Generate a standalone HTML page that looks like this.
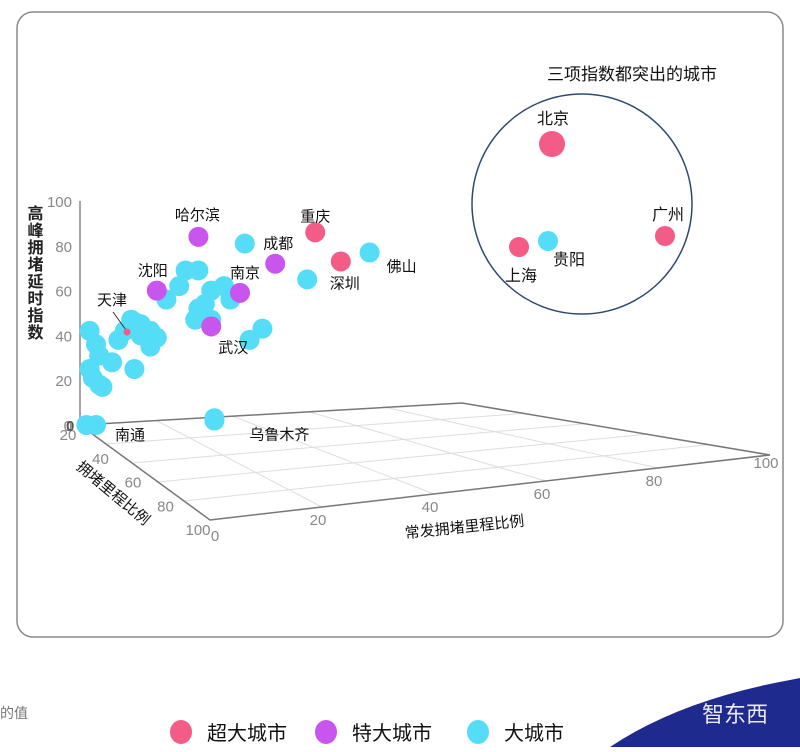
<!DOCTYPE html>
<html><head><meta charset="utf-8"><style>
body{margin:0;width:800px;height:747px;background:#fff;overflow:hidden;font-family:"Liberation Sans","Noto Sans CJK SC",sans-serif}
svg text{font-family:"Liberation Sans","Noto Sans CJK SC",sans-serif}
</style></head><body>
<svg id="chart" width="800" height="747" xmlns="http://www.w3.org/2000/svg">
<rect x="17" y="12" width="766" height="625" rx="16" fill="#fff" stroke="#8a8a8a" stroke-width="1.5"/>
<g id="floor"></g>
<g id="axes"></g>
<g id="pts"></g>
<g>
<text x="632" y="80" font-size="17" text-anchor="middle" fill="#111">三项指数都突出的城市</text>
<circle cx="582" cy="204" r="110" fill="none" stroke="#2d4a6e" stroke-width="1.5"/>
</g>
<text x="0" y="718" font-size="14" fill="#777">的值</text>
<g>
<g><ellipse cx="181" cy="732" rx="11" ry="12" fill="#f25c87"/><text x="207" y="740" font-size="20" fill="#111">超大城市</text></g>
<g><ellipse cx="326" cy="732" rx="11" ry="12" fill="#c855ee"/><text x="352" y="740" font-size="20" fill="#111">特大城市</text></g>
<g><ellipse cx="478" cy="732" rx="11" ry="12" fill="#55dcf7"/><text x="504" y="740" font-size="20" fill="#111">大城市</text></g>
</g>
<g>
<path d="M610 747 Q680 700 790 680 L800 678 L800 747 Z" fill="#1f2a8f"/>
<text x="735" y="722" font-size="22" fill="#fff" text-anchor="middle" opacity="0.9">智东西</text>
</g>
</svg>
<script>
// data: x = 常发拥堵里程比例 (projected), z = 高峰拥堵延时指数
const catX=[3,5,6,3,4,6,7,10,12,14,16,17,19,19,22,24,22,17,27,33,37,31,41,39,41,36,37,45,51.5,57,71,2,42,47,53];
const catZ=[42,36,31,25,21,18,17,28,38,42,47,46,40,45,42,39,35,25,56,69,69,62,60,54,47,47,52,62,81,43,65,0,3,56,38];
const catT=[2,2,2,2,2,2,2,2,2,2,2,2,2,2,2,2,2,2,2,2,2,2,2,2,2,2,2,2,2,2,2,2,2,2,2];
const namedX=[37,24,50,61,41,73.5,81.5,90.5,5,42];
const namedZ=[84,60,59,72,44,86,73,77,0,2];
const namedT=[1,1,1,1,1,0,0,2,2,2];
const namedLabel=["哈尔滨","沈阳","南京","成都","武汉","重庆","深圳","佛山","南通","乌鲁木齐"];
const yTicks=[0,20,40,60,80,100];
const xTicks=[20,40,60,80,100];
const dTicks=[20,40,60,80,100];
const colors=["#f25c87","#c855ee","#55dcf7"];
const NS="http://www.w3.org/2000/svg";
function sx(v){return 80+v*3.2;}
function sy(v){return 425-v*2.24;}
function mk(tag,attrs,parent){const e=document.createElementNS(NS,tag);for(const k in attrs)e.setAttribute(k,attrs[k]);parent.appendChild(e);return e;}
const floor=document.getElementById('floor'),axes=document.getElementById('axes'),pts=document.getElementById('pts');
const BL=[80,425],BR=[462,403],FR=[770,455],FL=[210,520];
function lerp(a,b,t){return [a[0]+(b[0]-a[0])*t,a[1]+(b[1]-a[1])*t];}
for(let i=1;i<5;i++){const t=i/5;
 const a=lerp(BL,BR,t),b=lerp(FL,FR,t);let l=mk('line',{x1:a[0],y1:a[1],x2:b[0],y2:b[1],stroke:'#ddd'},floor);
 
 const c=lerp(BL,FL,t),d=lerp(BR,FR,t);l=mk('line',{x1:c[0],y1:c[1],x2:d[0],y2:d[1],stroke:'#ddd'},floor);
 }
mk('path',{d:`M${BL} L${BR} L${FR} L${FL} Z`,fill:'none',stroke:'#777','stroke-width':1.5},floor);
mk('line',{x1:80,y1:sy(0),x2:80,y2:sy(100),stroke:'#888','stroke-width':1.5},axes);
yTicks.forEach(v=>{const t=mk('text',{x:72,y:sy(v)+6,'font-size':15,'text-anchor':'end',fill:'#888'},axes);t.textContent=v;
 });
const yt=mk('text',{x:33,y:205,'font-size':16,'font-weight':'bold',fill:'#222','writing-mode':'tb','glyph-orientation-vertical':0,'letter-spacing':1},axes);
yt.textContent='高峰拥堵延时指数';
xTicks.forEach(v=>{const p=lerp(FL,FR,v/100);const t=mk('text',{x:p[0]-4,y:p[1]+18+(v==100?-5:0),'font-size':15,'text-anchor':'middle',fill:'#888'},axes);t.textContent=v;
 });
const z0=mk('text',{x:215,y:541,'font-size':15,'text-anchor':'middle',fill:'#888'},axes);z0.textContent='0';
dTicks.forEach(v=>{const p=lerp(BL,FL,(v-20)/80);const t=mk('text',{x:p[0]-12,y:p[1]+15,'font-size':15,'text-anchor':'middle',fill:'#888'},axes);t.textContent=v;
 });
const zz=mk('text',{x:66,y:431,'font-size':15,'font-weight':'bold',fill:'#555'},axes);zz.textContent='0';
let xt=mk('text',{x:465,y:532,'font-size':15,'text-anchor':'middle',fill:'#111',transform:'rotate(-6 465 532)'},axes);xt.textContent='常发拥堵里程比例';

let dt=mk('text',{x:110,y:497,'font-size':15,'text-anchor':'middle',fill:'#111',transform:'rotate(40 110 497)'},axes);dt.textContent='拥堵里程比例';

catX.forEach((x,i)=>{const c=mk('circle',{cx:sx(x),cy:sy(catZ[i]),r:10,fill:colors[catT[i]]},pts);
 });
const offs=[[-1,-17],[-4,-15],[5,-15],[3,-15],[22,26],[0,-11],[4,27],[32,19],[34,15],[65,19]];
namedX.forEach((x,i)=>{const c=mk('circle',{cx:sx(x),cy:sy(namedZ[i]),r:10,fill:colors[namedT[i]]},pts);
 
 const t=mk('text',{x:sx(x)+offs[i][0],y:sy(namedZ[i])+offs[i][1],'font-size':15,'text-anchor':'middle',fill:'#111'},pts);t.textContent=namedLabel[i];
 });
mk('line',{x1:113,y1:312,x2:126,y2:330,stroke:'#333'},pts);
mk('circle',{cx:127,cy:332,r:3.5,fill:colors[0]},pts);
let tj=mk('text',{x:112,y:305,'font-size':15,'text-anchor':'middle',fill:'#111'},pts);tj.textContent='天津';
const insX=[552,665,519,548],insY=[144,236,247,241],insR=[13,10,10,10],insT=[0,0,0,2],insL=["北京","广州","上海","贵阳"],insLX=[553,668,521,569],insLY=[124,220,281,265];
insX.forEach((x,i)=>{const c=mk('circle',{cx:x,cy:insY[i],r:insR[i],fill:colors[insT[i]]},pts);
 
 const t=mk('text',{x:insLX[i],y:insLY[i],'font-size':16,'text-anchor':'middle',fill:'#111'},pts);t.textContent=insL[i];
 });
</script>
</body></html>
